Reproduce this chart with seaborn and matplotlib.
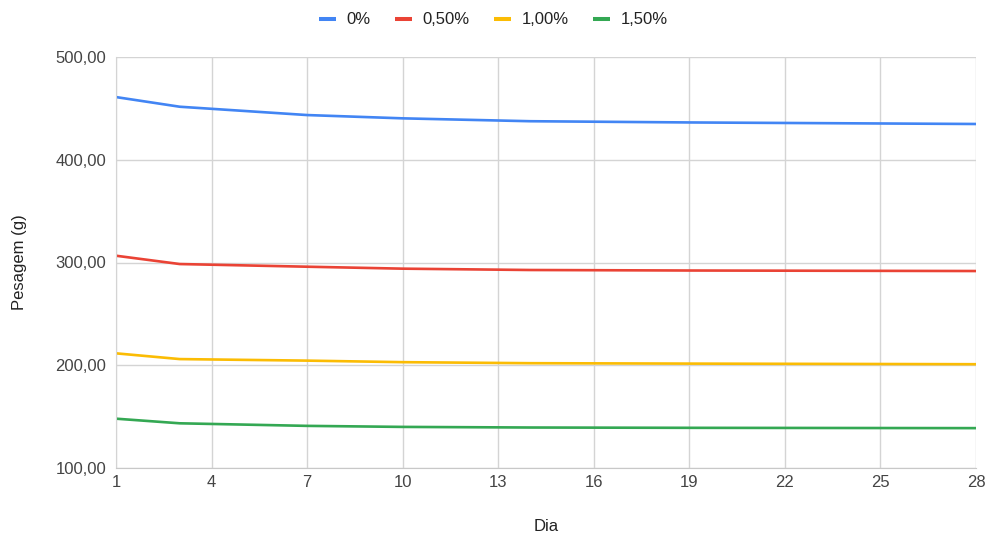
import pandas as pd
import matplotlib.pyplot as plt
import seaborn as sns
from matplotlib.ticker import FuncFormatter

dias = [1, 3, 7, 10, 14, 19, 28]
peso_0 = [461.0, 451.6, 443.5, 440.3, 437.5, 436.3, 434.8]
peso_050 = [306.6, 298.5, 295.9, 294.0, 292.7, 292.2, 291.7]
peso_100 = [211.6, 206.0, 204.5, 203.0, 202.0, 201.6, 201.0]
peso_150 = [148.0, 143.5, 141.0, 140.0, 139.4, 139.1, 138.8]
grupos = ['0%', '0,50%', '1,00%', '1,50%']
cores = ['#4285F4', '#EA4335', '#FBBC04', '#34A853']

df = pd.DataFrame({'Dia': dias * 4,
                   'Pesagem (g)': peso_0 + peso_050 + peso_100 + peso_150,
                   'Grupo': [g for g in grupos for _ in dias]})

sns.set_style('white')
plt.rcParams['font.family'] = ['Liberation Sans', 'DejaVu Sans']

fig = plt.figure(figsize=(9.89, 5.35), dpi=100)
ax = fig.add_axes([116 / 989, 1 - 468 / 535, 860 / 989, 411 / 535])

sns.lineplot(data=df, x='Dia', y='Pesagem (g)', hue='Grupo', palette=cores, linewidth=1.9, ax=ax)

ax.set_xlim(1, 28)
ax.set_ylim(100, 500)
ax.set_xticks(range(1, 29, 3))
ax.set_yticks([100, 200, 300, 400, 500])
ax.yaxis.set_major_formatter(FuncFormatter(lambda v, p: f'{v:.2f}'.replace('.', ',')))
ax.grid(True, color='#d4d4d4', linewidth=1)
for s in ['top', 'right']:
    ax.spines[s].set_visible(False)
ax.spines['left'].set_color('#d4d4d4')
ax.spines['bottom'].set_color('#c8c8c8')
ax.tick_params(axis='both', length=0, labelsize=12, labelcolor='#444444')
ax.tick_params(axis='y', pad=7)
ax.tick_params(axis='x', pad=5)
ax.set_xlabel('Dia', fontsize=12, color='#222222')
ax.set_ylabel('Pesagem (g)', fontsize=12, color='#222222')
ax.xaxis.set_label_coords(0.5, -0.123)
ax.yaxis.set_label_coords(-0.103, 0.5)

leg = ax.legend(loc='center', bbox_to_anchor=(0.439, 1 + 37 / 411), ncol=4, frameon=False,
                fontsize=12, handlelength=1.0, columnspacing=1.45, handletextpad=0.66,
                labelcolor='#222222')
for h in leg.legend_handles:
    h.set_linewidth(2.9)
    h.set_solid_capstyle('butt')

plt.savefig('out.png', dpi=100)
